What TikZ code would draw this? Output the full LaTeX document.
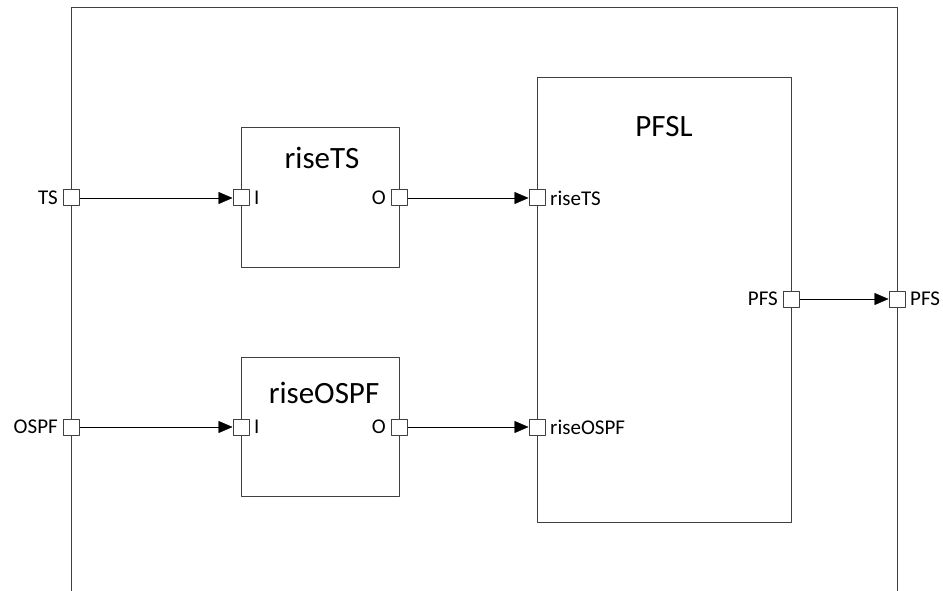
\documentclass[tikz,border=0pt]{standalone}
\usepackage{fontspec}
\setmainfont{Carlito}
\usetikzlibrary{arrows.meta}
\begin{document}
\begin{tikzpicture}[x=1pt, y=-1pt, line join=round, >={Triangle[length=14pt,width=12pt]},
  frame/.style={draw=black!75, line width=1pt},
  port/.style={draw=black!75, fill=white, minimum size=16pt, inner sep=0pt, line width=1pt},
  plabel/.style={font=\fontsize{21}{24}\selectfont, inner sep=4.5pt},
  title/.style={font=\fontsize{31}{36}\selectfont}]
\useasboundingbox (0,0) rectangle (943,591);
% outer frame, open at the bottom
\draw[frame] (71,591) -- (71,8) -- (897,8) -- (897,591);
% inner blocks
\draw[frame] (241,128) rectangle (399,267);
\draw[frame] (241,357) rectangle (399,496);
\draw[frame] (537,78) rectangle (791,522);
\node[title] (tRiseTS) at (322,158) {riseTS};
\node[title] (tRiseOSPF) at (324,393) {riseOSPF};
\node[title] (tPFSL) at (664,127) {PFSL};
% ports
\node[port, label={[plabel]left:TS}] (inTS) at (71,198) {};
\node[port, label={[plabel]left:OSPF}] (inOSPF) at (71,427) {};
\node[port, label={[plabel]right:I}] (rtsI) at (241,198) {};
\node[port, label={[plabel]left:O}] (rtsO) at (399,198) {};
\node[port, label={[plabel]right:I}] (rosI) at (241,427) {};
\node[port, label={[plabel]left:O}] (rosO) at (399,427) {};
\node[port, label={[plabel]right:riseTS}] (pRiseTS) at (537,198) {};
\node[port, label={[plabel]right:riseOSPF}] (pRiseOSPF) at (537,427) {};
\node[port, label={[plabel]left:PFS}] (pPFS) at (791,299) {};
\node[port, label={[plabel]right:PFS}] (outPFS) at (897,299) {};
% connectors
\draw[->] (inTS) -- (rtsI);
\draw[->] (rtsO) -- (pRiseTS);
\draw[->] (inOSPF) -- (rosI);
\draw[->] (rosO) -- (pRiseOSPF);
\draw[->] (pPFS) -- (outPFS);
\end{tikzpicture}
\end{document}
